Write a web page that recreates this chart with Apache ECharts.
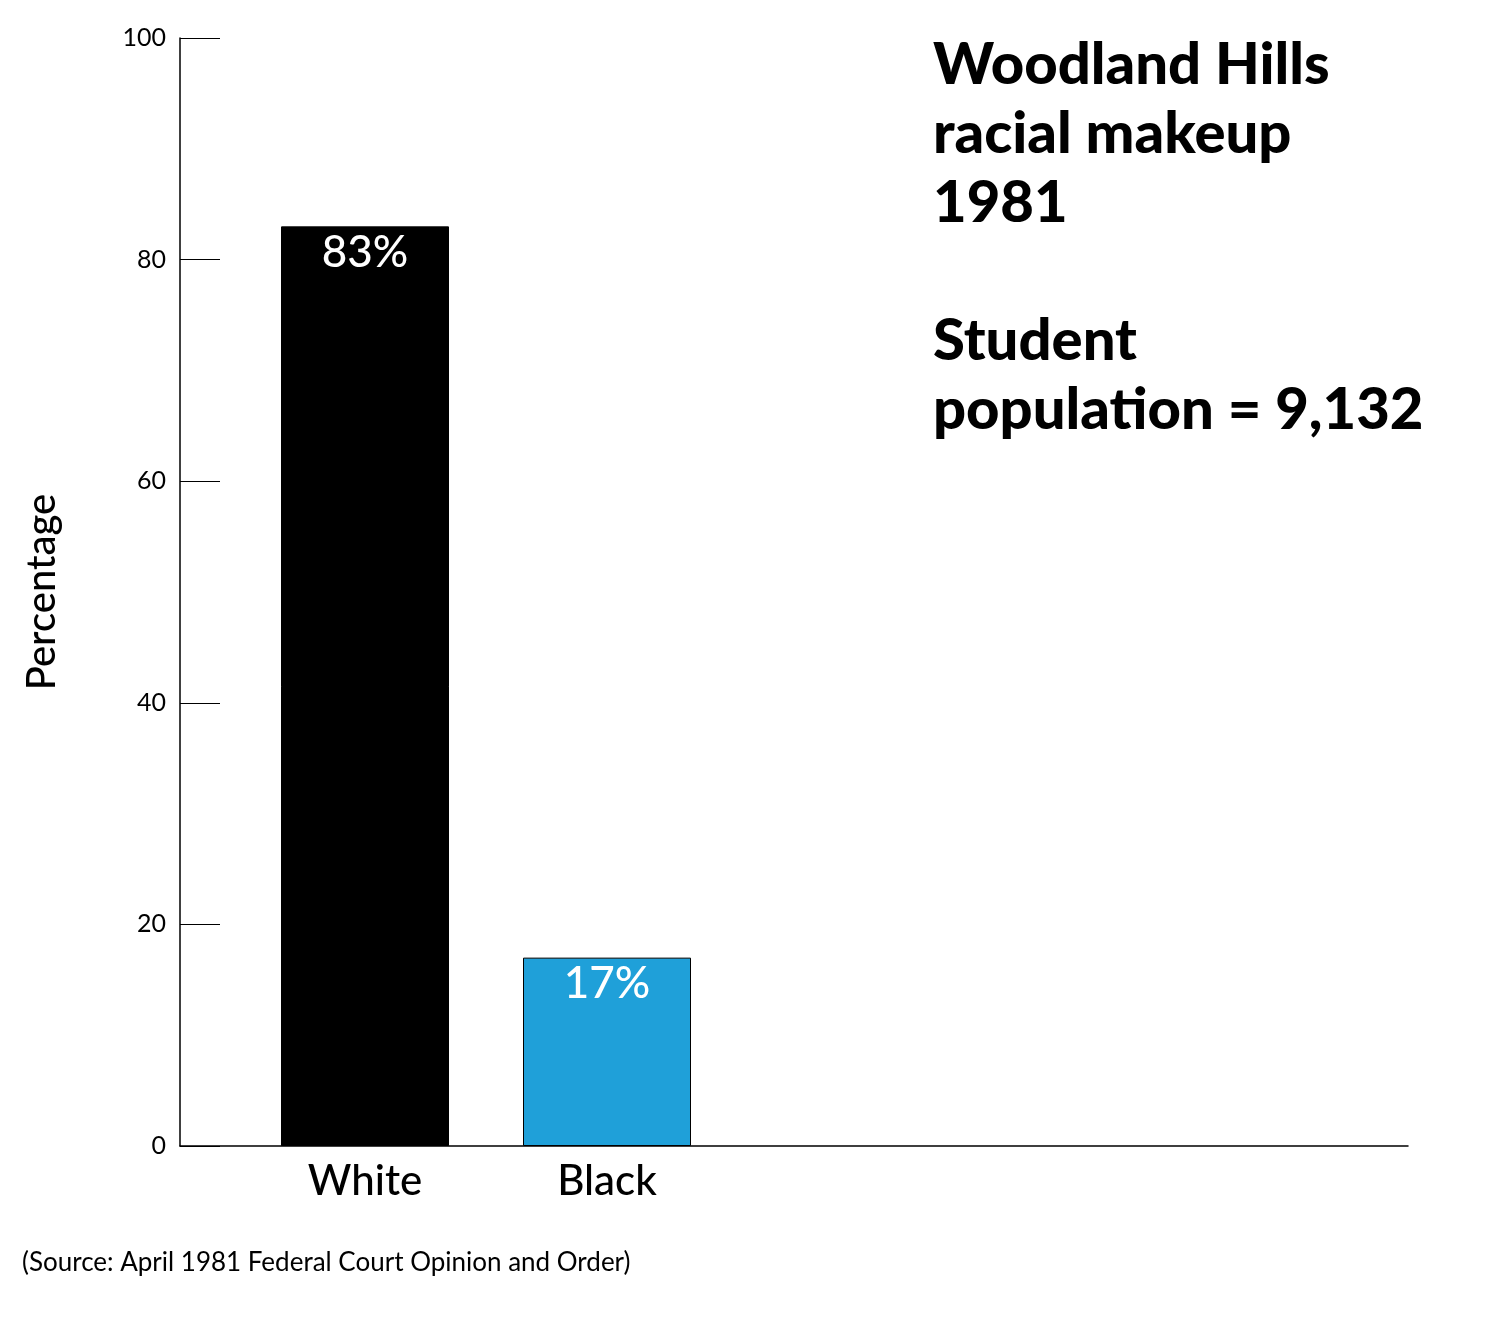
<!DOCTYPE html>
<html><head><meta charset="utf-8">
<script src="https://cdn.jsdelivr.net/npm/echarts@6/dist/echarts.min.js"></script>
<style>html,body{margin:0;padding:0;background:#fff}#c{width:1500px;height:1323px}</style>
</head><body><div id="c"></div>
<script>
const categories = ['White', 'Black', '', '', ''];
const values = [83, 17, null, null, null];
const colors = ['#000000', '#1fa0d9'];
const yTicks = [0, 20, 40, 60, 80, 100];
const F = 'Lato, "Noto Sans", sans-serif';
const chart = echarts.init(document.getElementById('c'));
chart.setOption({
  backgroundColor: '#fff',
  animation: false,
  title: {
    text: 'Woodland Hills\nracial makeup\n1981\n\nStudent\npopulation = 9,132',
    left: 928, top: 26,
    textStyle: { fontFamily: F, fontWeight: 900, fontSize: 58, lineHeight: 69, color: '#000' }
  },
  graphic: [{
    type: 'text', left: 22, top: 1250,
    style: { text: '(Source: April 1981 Federal Court Opinion and Order)', fontFamily: F, fontSize: 26, fill: '#000' }
  }],
  grid: [
    { left: 180, right: 92, top: 38, bottom: 177 },
    { left: 244, width: 1210, top: 38, bottom: 177 }
  ],
  xAxis: [
    { gridIndex: 0, type: 'value', min: 0, max: 1, axisLine: { show: true, lineStyle: { color: '#000', width: 1.5 } },
      axisTick: { show: false }, axisLabel: { show: false }, splitLine: { show: false } },
    { gridIndex: 1, type: 'category', data: categories, axisLine: { show: false }, axisTick: { show: false },
      axisLabel: { fontFamily: F, fontSize: 42, color: '#000', fontWeight: 500, margin: 14 } }
  ],
  yAxis: [
    { gridIndex: 0, type: 'value', min: 0, max: 100, interval: 20,
      name: 'Percentage', nameLocation: 'middle', nameGap: 118, nameRotate: 90,
      nameTextStyle: { fontFamily: F, fontSize: 40, fontWeight: 500, color: '#000' },
      axisLine: { show: true, lineStyle: { color: '#000', width: 1.5 } },
      axisTick: { show: true, inside: true, length: 40, lineStyle: { color: '#000' } },
      axisLabel: { fontFamily: F, fontSize: 25, color: '#000', margin: 14,
        formatter: v => yTicks.includes(v) ? String(v) : '' },
      splitLine: { show: false } },
    { gridIndex: 1, type: 'value', min: 0, max: 100, show: false }
  ],
  series: [{
    type: 'bar', xAxisIndex: 1, yAxisIndex: 1, barWidth: 168,
    data: values.map((v, i) => v == null ? null : { value: v, itemStyle: { color: colors[i], borderColor: '#000', borderWidth: 1 } }),
    label: { show: true, position: 'insideTop', distance: 4, color: '#fff', fontFamily: F, fontSize: 44, fontWeight: 500,
      formatter: p => p.value + '%' }
  }]
});
</script></body></html>
